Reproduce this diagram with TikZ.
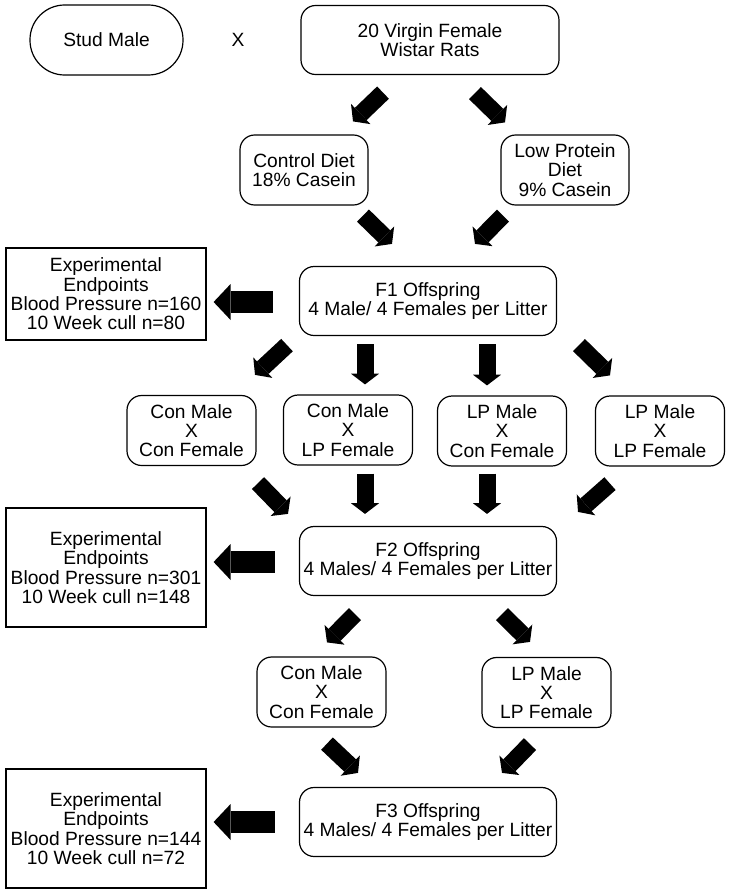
\documentclass[tikz,border=0pt]{standalone}
\usepackage{fontspec}
\setmainfont{Liberation Sans}
\usetikzlibrary{arrows.meta,calc}

\begin{document}
\begin{tikzpicture}[x=0.75pt,y=-0.75pt,
		font=\fontsize{14.4pt}{14.5pt}\selectfont,
		box/.style={draw,line width=0.9pt,rounded corners=11pt,align=center,inner sep=0pt,minimum width=96.75pt,minimum height=52.5pt},
		offbox/.style={box,minimum width=192.75pt,minimum height=51.75pt},
		endbox/.style={draw,line width=0.9pt,align=center,inner sep=0pt,minimum width=150pt,minimum height=89.25pt},
		fatarrow/.style={line width=12.75pt,-{Triangle[width=21pt,length=8pt,line width=0pt]}},
		bigarrow/.style={line width=16.5pt,-{Triangle[width=27pt,length=12.75pt,line width=0pt]}}]
		\useasboundingbox (0,0) rectangle (732,896);
		\node[box,rounded corners=26pt,minimum width=114.75pt] (stud) at (106.5,40) {Stud Male};
		\node (cross) at (238,40) {X};
		\node[box,minimum width=193.5pt,minimum height=51.75pt] (virgin) at (430,40) {20 Virgin Female\\Wistar Rats};
		\node[box,minimum width=96pt] (control) at (304,170) {Control Diet\\18\% Casein};
		\node[box,minimum width=96pt] (lowprot) at (565,170) {Low Protein\\Diet\\9\% Casein};
		\node[offbox] (f1) at (428,301) {F1 Offspring\\4 Male/ 4 Females per Litter};
		\node[endbox,minimum height=69pt] (ee1) at (106,294) {Experimental\\Endpoints\\Blood Pressure n=160\\10 Week cull n=80};
		\node[box] (conxcon) at (191.5,430.5) {Con Male\\X\\Con Female};
		\node[box] (conxlp) at (348,430) {Con Male\\X\\LP Female};
		\node[box] (lpxcon) at (502,431) {LP Male\\X\\Con Female};
		\node[box] (lpxlp) at (660,431) {LP Male\\X\\LP Female};
		\node[offbox] (f2) at (428,561) {F2 Offspring\\4 Males/ 4 Females per Litter};
		\node[endbox] (ee2) at (106,567.5) {Experimental\\Endpoints\\Blood Pressure n=301\\10 Week cull n=148};
		\node[box] (conxcontwo) at (321.5,692) {Con Male\\X\\Con Female};
		\node[box] (lpxlptwo) at (546.5,692.5) {LP Male\\X\\LP Female};
		\node[offbox] (f3) at (428,822) {F3 Offspring\\4 Males/ 4 Females per Litter};
		\node[endbox] (ee3) at (106,828.5) {Experimental\\Endpoints\\Blood Pressure n=144\\10 Week cull n=72};
		\draw[fatarrow] ($(virgin.south)+(-47,17.5)$)--($(control.north)+(49,-13)$);
		\draw[fatarrow] ($(virgin.south)+(45,18)$)--($(lowprot.north)+(-60,-12)$);
		\draw[fatarrow] ($(control.south)+(59,10)$)--($(f1.north)+(-36,-22)$);
		\draw[fatarrow] ($(lowprot.south)+(-62,10)$)--($(f1.north)+(47,-22)$);
		\draw[bigarrow] ($(f1.west)+(-26,1)$)--($(ee1.east)+(7,8)$);
		\draw[fatarrow] ($(f1.south)+(-141,9)$)--($(conxcon.north)+(63.5,-20)$);
		\draw[fatarrow] ($(f1.south)+(-63,8)$)--($(conxlp.north)+(17,-10)$);
		\draw[fatarrow] ($(f1.south)+(59,8)$)--($(lpxcon.north)+(-15,-10)$);
		\draw[fatarrow] ($(f1.south)+(151,9)$)--($(lpxlp.north)+(-50,-20)$);
		\draw[fatarrow] ($(conxcon.south)+(66.5,17)$)--($(f2.north)+(-140,-12)$);
		\draw[fatarrow] ($(conxlp.south)+(17,8)$)--($(f2.north)+(-63,-12)$);
		\draw[fatarrow] ($(lpxcon.south)+(-15,7)$)--($(f2.north)+(59,-12)$);
		\draw[fatarrow] ($(lpxlp.south)+(-50,17)$)--($(f2.north)+(150,-14)$);
		\draw[bigarrow] ($(f2.west)+(-24,1)$)--($(ee2.east)+(7,-5.5)$);
		\draw[fatarrow] ($(f2.south)+(-73,18)$)--($(conxcontwo.north)+(5.5,-14)$);
		\draw[fatarrow] ($(f2.south)+(74,18)$)--($(lpxlptwo.north)+(-16.5,-15)$);
		\draw[fatarrow] ($(conxcontwo.south)+(5.5,16)$)--($(f3.north)+(-70,-14)$);
		\draw[fatarrow] ($(lpxlptwo.south)+(-16.5,16)$)--($(f3.north)+(74,-14)$);
		\draw[bigarrow] ($(f3.west)+(-24,0)$)--($(ee3.east)+(7,-6.5)$);
	\end{tikzpicture}
\end{document}
